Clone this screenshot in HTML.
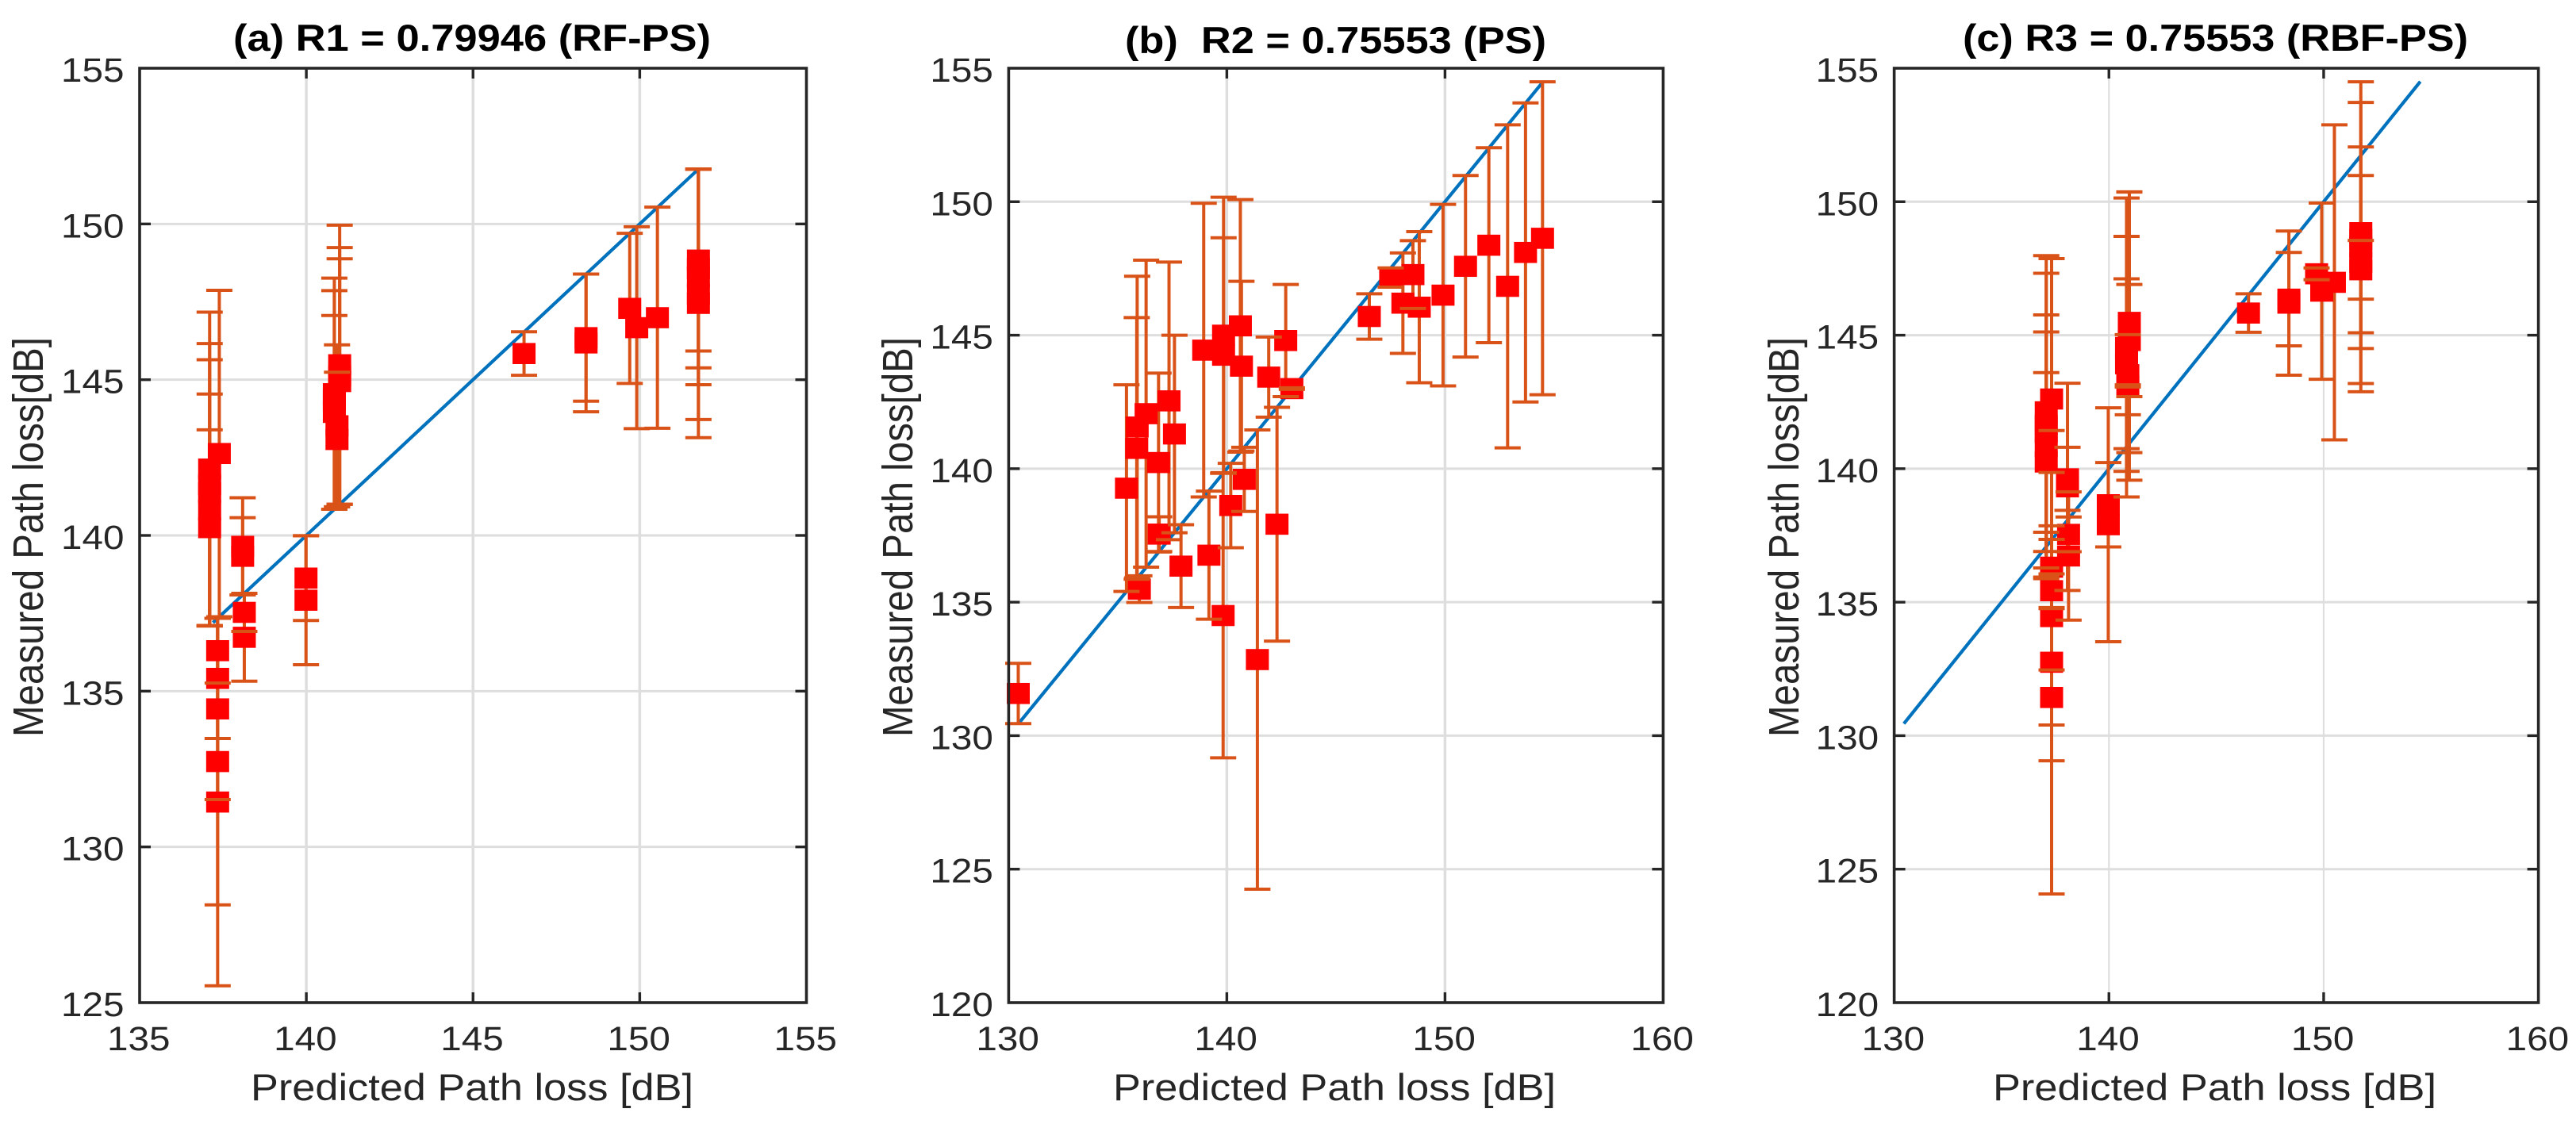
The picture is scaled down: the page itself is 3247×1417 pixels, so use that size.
<!DOCTYPE html>
<html lang="en">
<head>
<meta charset="utf-8">
<title>Predicted vs measured path loss</title>
<style>
html,body{margin:0;padding:0;background:#fff;}
svg{display:block;}
text{font-family:"Liberation Sans",Arial,sans-serif;}
.tick{font-size:43px;fill:#262626;}
.axl{font-size:47.5px;fill:#262626;}
.ttl{font-size:47.5px;font-weight:bold;fill:#000;}
</style>
</head>
<body>
<svg id="figure" xmlns="http://www.w3.org/2000/svg" width="3247" height="1417" viewBox="0 0 3247 1417">
  <rect x="0" y="0" width="3247" height="1417" fill="#ffffff"/>
  <g id="panel-a"></g>
  <g id="panel-b"></g>
  <g id="panel-c"></g>

  <text class="ttl" x="294" y="64" textLength="602" lengthAdjust="spacingAndGlyphs">(a) R1 = 0.79946 (RF-PS)</text>
  <text class="ttl" x="1418" y="67" textLength="531" lengthAdjust="spacingAndGlyphs" xml:space="preserve">(b)  R2 = 0.75553 (PS)</text>
  <text class="ttl" x="2474" y="64" textLength="637" lengthAdjust="spacingAndGlyphs">(c) R3 = 0.75553 (RBF-PS)</text>

  <text class="axl" x="316" y="1387" textLength="558" lengthAdjust="spacingAndGlyphs">Predicted Path loss [dB]</text>
  <text class="axl" x="1403" y="1387" textLength="558" lengthAdjust="spacingAndGlyphs">Predicted Path loss [dB]</text>
  <text class="axl" x="2512" y="1387" textLength="559" lengthAdjust="spacingAndGlyphs">Predicted Path loss [dB]</text>

  <text class="axl" transform="translate(54 929) rotate(-90) scale(1 1.13)" x="0" y="0" textLength="504" lengthAdjust="spacingAndGlyphs">Measured Path loss[dB]</text>
  <text class="axl" transform="translate(1150 929) rotate(-90) scale(1 1.13)" x="0" y="0" textLength="504" lengthAdjust="spacingAndGlyphs">Measured Path loss[dB]</text>
  <text class="axl" transform="translate(2267 929) rotate(-90) scale(1 1.13)" x="0" y="0" textLength="504" lengthAdjust="spacingAndGlyphs">Measured Path loss[dB]</text>
</svg>

<script>
// ---- tick labels ----
const aXTicks = [135, 140, 145, 150, 155];
const aYTicks = [125, 130, 135, 140, 145, 150, 155];
const bXTicks = [130, 140, 150, 160];
const bYTicks = [120, 125, 130, 135, 140, 145, 150, 155];
const cXTicks = [130, 140, 150, 160];
const cYTicks = [120, 125, 130, 135, 140, 145, 150, 155];

// ---- panel (a) RF-PS ----
const aPredicted = [137.1,137.1,137.1,137.1,137.1,137.39,137.34,137.34,137.34,137.34,137.34,138.09,138.09,138.14,138.14,139.99,139.99,140.84,140.84,140.84,141.0,141.0,141.0,140.92,140.92,146.53,148.39,148.39,149.7,149.91,150.53,151.76,151.76,151.76,151.76,151.76];
const aMeasured = [142.13,141.63,141.37,140.82,140.25,142.63,136.3,135.41,134.43,132.74,131.44,139.65,139.33,137.53,136.73,138.63,137.92,144.55,144.35,143.95,145.48,145.12,144.94,143.52,143.08,145.84,146.35,146.18,147.29,146.67,146.99,148.84,148.57,148.3,147.74,147.45];
const aError = [5.04,4.53,4.27,3.72,3.14,5.24,1.04,1.93,2.91,4.6,5.9,1.56,1.24,0.61,1.41,1.36,2.07,3.71,3.51,3.11,4.48,4.12,3.94,2.6,2.16,0.7,2.04,2.21,2.41,3.24,3.55,2.92,3.19,3.46,4.02,4.31];
const aFitLine = [137.2, 151.76];

// ---- panel (b) PS ----
const bPredicted = [130.44,135.4,135.87,135.89,135.99,136.3,136.87,136.9,137.35,137.6,137.9,138.94,139.18,139.83,139.85,139.85,140.18,140.62,140.67,140.8,141.4,141.92,142.3,142.7,142.98,146.53,147.51,148.07,148.53,148.82,149.91,150.94,152.01,152.87,153.69,154.47];
const bMeasured = [131.58,139.27,140.76,141.56,135.49,142.06,140.23,137.55,142.54,141.3,136.35,144.44,136.76,134.5,144.25,145.0,138.62,145.35,143.84,139.6,132.85,143.43,137.92,144.8,143.0,145.7,147.16,146.2,147.27,146.05,146.5,147.58,148.37,146.83,148.1,148.63];
const bError = [1.13,3.87,4.9,5.65,0.5,5.75,3.35,0.65,5.2,3.7,1.55,5.5,2.4,5.33,4.4,5.17,1.58,4.73,3.18,1.2,8.6,1.5,4.38,2.1,0.03,0.85,0.36,1.88,1.27,2.83,3.4,3.4,3.65,6.05,5.6,5.86];
const bFitLine = [130.45, 154.5];

// ---- panel (c) RBF-PS ----
const cPredicted = [137.08,137.08,137.08,137.08,137.08,137.33,137.33,137.33,137.33,137.33,137.33,138.07,138.07,138.12,138.12,139.97,139.97,140.82,140.82,140.82,140.95,140.95,140.95,140.88,140.88,146.5,148.38,148.38,149.67,149.91,150.5,151.73,151.73,151.73,151.73,151.73];
const cMeasured = [142.13,141.63,141.37,140.82,140.25,142.61,136.31,135.43,134.46,132.75,131.43,139.62,139.32,137.54,136.73,138.65,137.9,144.54,144.3,143.93,145.48,144.97,144.8,143.52,143.1,145.83,146.35,146.2,147.3,146.65,146.98,148.84,148.57,148.3,147.74,147.45];
const cError = [5.85,5.69,3.75,4.94,3.35,5.26,1.55,0.63,5.4,8.68,1.03,1.18,3.88,0.65,2.4,1.58,4.38,5.6,4.4,3.18,4.88,5.4,2.1,1.5,0.04,0.72,1.75,2.7,0.22,3.3,5.9,5.65,3.48,5.42,3.24,1.1];
const cFitLine = [130.45, 154.5];

const SVGNS = 'http://www.w3.org/2000/svg';
const AXIS = '#262626', GRID = '#dedede', BAR = '#d95319', MARK = '#ff0000', FIT = '#0072bd';

function mk(tag, parent, attrs) {
  const el = document.createElementNS(SVGNS, tag);
  for (const k in attrs) el.setAttribute(k, attrs[k]);
  parent.appendChild(el);
  return el;
}

function drawPanel(id, box, xTicks, yTicks, predicted, measured, errors, fitLine, vGridWidth) {
  const root = document.getElementById(id);
  const xMin = xTicks[0], xMax = xTicks[xTicks.length - 1];
  const yMin = yTicks[0], yMax = yTicks[yTicks.length - 1];
  const X = v => box.left + (v - xMin) / (xMax - xMin) * (box.right - box.left);
  const Y = v => box.bottom - (v - yMin) / (yMax - yMin) * (box.bottom - box.top);

  // grid
  xTicks.slice(1, -1).forEach(v => {
    const g = mk('line', root, {x1: X(v), x2: X(v), y1: box.top, y2: box.bottom, stroke: GRID, 'stroke-width': vGridWidth});
    
    
  });
  yTicks.slice(1, -1).forEach(v => {
    const g = mk('line', root, {x1: box.left, x2: box.right, y1: Y(v), y2: Y(v), stroke: GRID, 'stroke-width': 3});
    
    
  });

  // reference line
  const fit = mk('line', root, {x1: X(fitLine[0]), y1: Y(fitLine[0]), x2: X(fitLine[1]), y2: Y(fitLine[1]), stroke: FIT, 'stroke-width': 4.2});
  
  

  // error-bar stems
  predicted.forEach((p, i) => {
    const s = mk('line', root, {x1: X(p), x2: X(p), y1: Y(measured[i] + errors[i]), y2: Y(measured[i] - errors[i]), stroke: BAR, 'stroke-width': 4});
    
    
  });

  // markers
  predicted.forEach((p, i) => {
    const m = mk('rect', root, {x: X(p) - 14.5, y: Y(measured[i]) - 13.3, width: 29, height: 26.6, fill: MARK});
    
    
  });

  // error-bar caps
  predicted.forEach((p, i) => {
    [measured[i] + errors[i], measured[i] - errors[i]].forEach(v => {
      const c = mk('line', root, {x1: X(p) - 16.5, x2: X(p) + 16.5, y1: Y(v), y2: Y(v), stroke: BAR, 'stroke-width': 4});
      
      
    });
  });

  // axes box
  const frame = mk('rect', root, {x: box.left, y: box.top, width: box.right - box.left, height: box.bottom - box.top, fill: 'none', stroke: AXIS, 'stroke-width': 3.6});
  
  

  // x ticks + labels
  xTicks.forEach((v, i) => {
    if (i > 0 && i < xTicks.length - 1) {
      const t1 = mk('line', root, {x1: X(v), x2: X(v), y1: box.bottom, y2: box.bottom - 13, stroke: AXIS, 'stroke-width': 3.4});
      
      
      const t2 = mk('line', root, {x1: X(v), x2: X(v), y1: box.top, y2: box.top + 13, stroke: AXIS, 'stroke-width': 3.4});
      
      
    }
    const lab = mk('text', root, {class: 'tick', x: X(v) - 41, y: 1324, textLength: 79.5, lengthAdjust: 'spacingAndGlyphs'});
    lab.textContent = String(v);
    
    
  });

  // y ticks + labels
  yTicks.forEach((v, i) => {
    if (i > 0 && i < yTicks.length - 1) {
      const t1 = mk('line', root, {x1: box.left, x2: box.left + 14, y1: Y(v), y2: Y(v), stroke: AXIS, 'stroke-width': 3.4});
      
      
      const t2 = mk('line', root, {x1: box.right, x2: box.right - 14, y1: Y(v), y2: Y(v), stroke: AXIS, 'stroke-width': 3.4});
      
      
    }
    const lab = mk('text', root, {class: 'tick', x: box.left - 99, y: Y(v) + 17, textLength: 79.5, lengthAdjust: 'spacingAndGlyphs'});
    lab.textContent = String(v);
    
    
  });
}

drawPanel('panel-a', {left: 176, right: 1016.5, top: 86, bottom: 1264}, aXTicks, aYTicks, aPredicted, aMeasured, aError, aFitLine, 3.5);
drawPanel('panel-b', {left: 1271.4, right: 2096.4, top: 86, bottom: 1264}, bXTicks, bYTicks, bPredicted, bMeasured, bError, bFitLine, 3.5);
drawPanel('panel-c', {left: 2387.6, right: 3199.6, top: 86, bottom: 1264}, cXTicks, cYTicks, cPredicted, cMeasured, cError, cFitLine, 2.2);
</script>
</body>
</html>
